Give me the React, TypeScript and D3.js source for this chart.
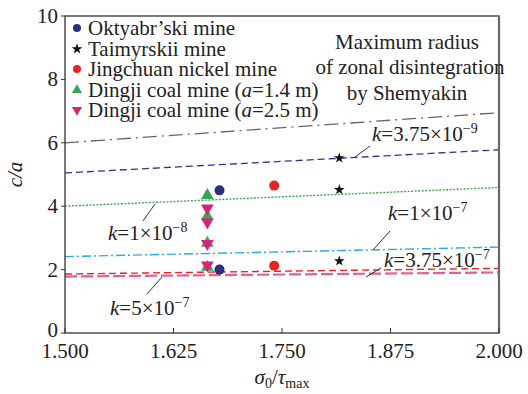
import React from 'react';
import * as d3 from 'd3';

// x range of the model curves
const curveX = [1.5, 2.0];
const shemyakin = [6.0, 6.95];
const k375e9 = [5.05, 5.78];
const k1e8 = [4.0, 4.59];
const k1e7 = [2.41, 2.71];
const k375e7 = [1.86, 2.04];
const k5e7 = [1.78, 1.91];

// field observations
const oktX = [1.678, 1.678];
const oktY = [4.5, 2.0];
const taimX = [1.816, 1.816, 1.816];
const taimY = [5.52, 4.52, 2.27];
const jingX = [1.741, 1.741];
const jingY = [4.65, 2.12];
const ding14X = [1.664, 1.664, 1.664, 1.664];
const ding14Y = [4.34, 3.68, 2.84, 2.08];
const ding25X = [1.664, 1.664, 1.664, 1.664];
const ding25Y = [3.94, 3.5, 2.82, 2.14];

const xTicks = [1.5, 1.625, 1.75, 1.875, 2.0];
const yTicks = [0, 2, 4, 6, 8, 10];
const legendNames = ['Oktyabr\u2019ski mine', 'Taimyrskii mine', 'Jingchuan nickel mine', 'Dingji coal mine (', 'Dingji coal mine ('];

const W = 528;
const H = 394;
const margin = { top: 16, right: 29, bottom: 61, left: 65 };
const SERIF = 'Liberation Serif';

const Txt = (props: any) => <text fill="#222" fontSize={20} fontFamily={SERIF} style={{ fontFamily: SERIF }} {...props} />;

const App = () => {
  const x = d3.scaleLinear().domain([1.5, 2.0]).range([margin.left, W - margin.right]);
  const y = d3.scaleLinear().domain([0, 10]).range([H - margin.bottom, margin.top]);
  const line = d3.line().x((_: any, i: number) => x(curveX[i])).y((d: any) => y(d));

  const star = d3.symbol().type(d3.symbolStar).size(36)() as string;
  const tri = d3.symbol().type(d3.symbolTriangle).size(70)() as string;

  const curves = [
    { d: shemyakin, stroke: '#666', dash: '14,5,2,5', w: 1.3 },
    { d: k375e9, stroke: '#2e3192', dash: '7,4', w: 1.3 },
    { d: k1e8, stroke: '#3aa655', dash: '2,1.5', w: 1.4 },
    { d: k1e7, stroke: '#29abe2', dash: '9,3,2,3', w: 1.4 },
    { d: k375e7, stroke: '#e8242a', dash: '7,4', w: 1.4 },
    { d: k5e7, stroke: '#e0609e', dash: '12,4', w: 2.2 },
  ];

  const kLabel = (tx: number, ty: number, mant: string, exp: string) => (
    <Txt x={tx} y={ty} fontSize={21}>
      <tspan fontStyle="italic">k</tspan>
      <tspan>={mant}×10</tspan>
      <tspan fontSize={14} dy={-8}>−{exp}</tspan>
    </Txt>
  );

  const leader = (x1: number, y1: number, x2: number, y2: number) => (
    <line x1={x1} y1={y1} x2={x2} y2={y2} stroke="#333" strokeWidth={1} />
  );

  return (
    <svg width={W} height={H} style={{ position: 'absolute', left: 0, top: 0 }}>
      <style>{`text, tspan { font-family: 'Liberation Serif', 'Times New Roman', serif; }`}</style>
      <rect width={W} height={H} fill="#fff" />
      {curves.map((c, i) => (
        <path key={i} d={line(c.d as any) as string} fill="none" stroke={c.stroke} strokeWidth={c.w} strokeDasharray={c.dash} />
      ))}

      {/* frame */}
      <rect x={x(1.5)} y={y(10)} width={x(2.0) - x(1.5)} height={y(0) - y(10)} fill="none" stroke="#333" strokeWidth={1.3} />
      <line x1={x(2.0)} x2={x(2.0)} y1={y(10)} y2={y(0)} stroke="#666" strokeWidth={2.2} />

      {xTicks.map(t => (
        <g key={t}>
          <line x1={x(t)} x2={x(t)} y1={y(0)} y2={y(0) - 5} stroke="#333" strokeWidth={1} />
          <Txt x={x(t)} y={y(0) + 25} textAnchor="middle" fontSize={21}>{t.toFixed(3)}</Txt>
        </g>
      ))}
      {yTicks.map(t => (
        <g key={t}>
          <line x1={x(1.5) - 4} x2={x(1.5)} y1={y(t)} y2={y(t)} stroke="#333" strokeWidth={1} />
          <Txt x={x(1.5) - 7} y={y(t) + (t === 0 ? 4 : 7)} textAnchor="end" fontSize={21}>{t}</Txt>
        </g>
      ))}

      <Txt transform={`translate(22,${(y(0) + y(10)) / 2}) rotate(-90)`} textAnchor="middle" fontStyle="italic" fontSize={21}>c/a</Txt>
      <Txt x={(x(1.5) + x(2.0)) / 2} y={384} textAnchor="middle" fontSize={21}>
        <tspan fontStyle="italic">σ</tspan>
        <tspan fontSize={14} dy={4}>0</tspan>
        <tspan dy={-4}>/</tspan>
        <tspan fontStyle="italic">τ</tspan>
        <tspan fontSize={14} dy={4}>max</tspan>
      </Txt>

      {/* data points */}
      {ding14Y.map((v, i) => (
        <path key={'g' + i} d={tri} transform={`translate(${x(ding14X[i])},${y(v)})`} fill="#3aa655" />
      ))}
      {ding25Y.map((v, i) => (
        <path key={'p' + i} d={tri} transform={`translate(${x(ding25X[i])},${y(v)}) rotate(180)`} fill="#d6247c" />
      ))}
      {oktY.map((v, i) => (
        <circle key={'o' + i} cx={x(oktX[i])} cy={y(v)} r={5} fill="#2b2f7e" />
      ))}
      {jingY.map((v, i) => (
        <circle key={'j' + i} cx={x(jingX[i])} cy={y(v)} r={5} fill="#e52521" />
      ))}
      {taimY.map((v, i) => (
        <path key={'t' + i} d={star} transform={`translate(${x(taimX[i])},${y(v)})`} fill="#111" />
      ))}

      {/* legend */}
      <circle cx={77} cy={28} r={4} fill="#2b2f7e" />
      <path d={star} transform="translate(77,49)" fill="#111" />
      <circle cx={77} cy={69} r={4} fill="#e52521" />
      <path d={tri} transform="translate(77,90) scale(0.8)" fill="#3aa655" />
      <path d={tri} transform="translate(77,110) rotate(180) scale(0.8)" fill="#d6247c" />
      <Txt x={88} y={35} fontSize={21}>{legendNames[0]}</Txt>
      <Txt x={88} y={56} fontSize={21}>{legendNames[1]}</Txt>
      <Txt x={88} y={76} fontSize={21}>{legendNames[2]}</Txt>
      <Txt x={88} y={97} fontSize={21}>{legendNames[3]}<tspan fontStyle="italic">a</tspan>=1.4 m)</Txt>
      <Txt x={88} y={117} fontSize={21}>{legendNames[4]}<tspan fontStyle="italic">a</tspan>=2.5 m)</Txt>

      {/* Shemyakin note */}
      <Txt x={407} y={49} textAnchor="middle" fontSize={21}>Maximum radius</Txt>
      <Txt x={410} y={74} textAnchor="middle" fontSize={21}>of zonal disintegration</Txt>
      <Txt x={407} y={100} textAnchor="middle" fontSize={21}>by Shemyakin</Txt>

      {kLabel(372, 141, '3.75', '9')}
      {leader(355, 157, 370, 146)}
      {kLabel(108, 240, '1', '8')}
      {leader(143, 221, 155, 204)}
      {kLabel(388, 220, '1', '7')}
      {leader(373, 250, 390, 231)}
      {kLabel(384, 267, '3.75', '7')}
      {leader(366, 277, 381, 268)}
      {kLabel(110, 315, '5', '7')}
      {leader(147, 294, 162, 277)}
    </svg>
  );
};

export default App;
